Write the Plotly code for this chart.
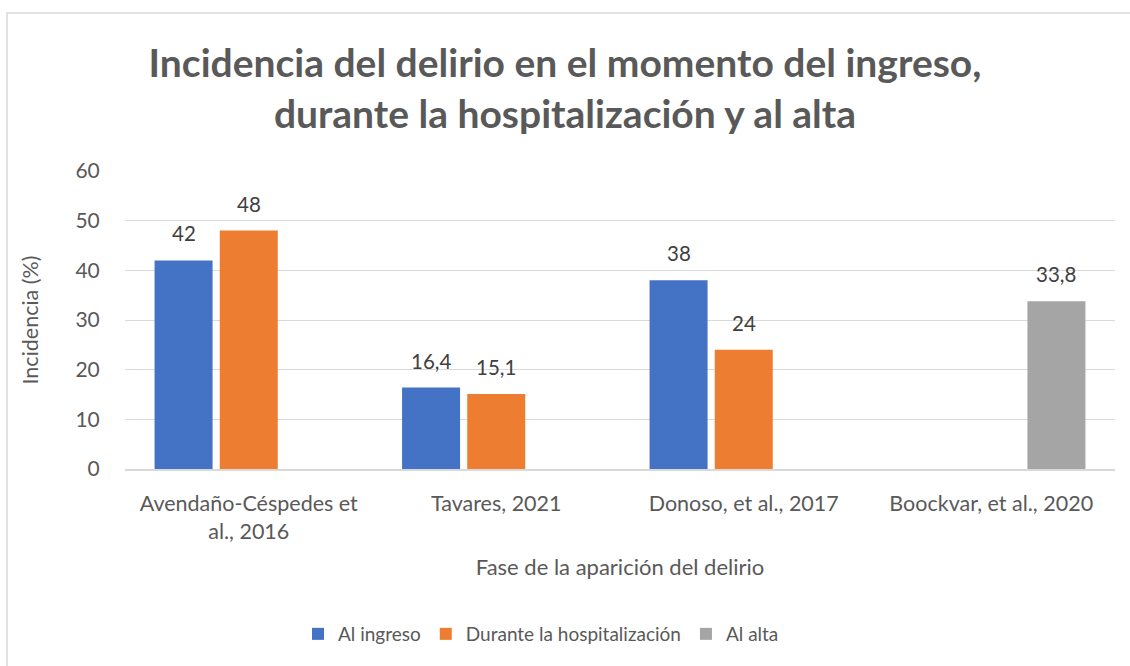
import plotly.graph_objects as go

categories = ["Avendaño-Céspedes et<br>al., 2016", "Tavares, 2021", "Donoso, et al., 2017", "Boockvar, et al., 2020"]
series_names = ["Al ingreso", "Durante la hospitalización", "Al alta"]
al_ingreso = [42, 16.4, 38, None]
durante = [48, 15.1, 24, None]
al_alta = [None, None, None, 33.8]
colors = ["#4472C4", "#ED7D31", "#A5A5A5"]

def fmt(v):
    return ("%g" % v).replace(".", ",")

L, R, T, B = 125, 15, 171, 197
W, H = 1130, 666
pw = W - L - R
ph = H - T - B
BARGAP = 0.21
BARGROUPGAP = 0.11

fig = go.Figure()
all_series = [al_ingreso, durante, al_alta]
for name, vals, col in zip(series_names, all_series, colors):
    fig.add_trace(go.Bar(
        x=categories, y=vals, name=name,
        marker=dict(color=col, line=dict(width=0)),
    ))

# data labels above each bar, shifted to its slot inside the group
n_series = len(all_series)
slot_px = pw / len(categories) * (1 - BARGAP) / n_series
for i, vals in enumerate(all_series):
    shift = (i - (n_series - 1) / 2) * slot_px
    for cat, v in zip(categories, vals):
        if v is None:
            continue
        fig.add_annotation(
            x=cat, y=v, xref="x", yref="y", text=fmt(v), showarrow=False,
            xshift=shift, yshift=27, yanchor="middle",
            font=dict(family="Lato", size=20.5, color="#404040"),
        )

fig.update_layout(
    width=W, height=H,
    margin=dict(l=L, r=R, t=T, b=B),
    paper_bgcolor="white", plot_bgcolor="white",
    barmode="group", bargap=BARGAP, bargroupgap=BARGROUPGAP,
    font=dict(family="Lato", color="#595959", size=21),
    title=dict(
        text="<b>Incidencia del delirio en el momento del ingreso,<br>durante la hospitalización y al alta</b>",
        x=0.5, xanchor="center", y=1 - 77 / H, yanchor="middle",
        font=dict(family="Lato", size=39, color="#595959"),
    ),
    xaxis=dict(
        showgrid=False, showline=True, linecolor="#D9D9D9", linewidth=1.5,
        ticks="outside", ticklen=14, tickcolor="rgba(0,0,0,0)",
        tickfont=dict(size=21.5, color="#595959"),
        title=dict(text="Fase de la aparición del delirio", font=dict(size=22, color="#595959"), standoff=17),
    ),
    yaxis=dict(
        range=[0, 60], dtick=10, showgrid=True, gridcolor="#D9D9D9", gridwidth=1,
        zeroline=False, showline=False,
        ticks="outside", ticklen=20, tickcolor="rgba(0,0,0,0)",
        tickfont=dict(size=21, color="#595959"),
        title=dict(text="Incidencia (%)", font=dict(size=21.5, color="#595959"), standoff=30),
    ),
    legend=dict(
        orientation="h", x=(541 - L) / pw, xanchor="center",
        y=(469 - 634) / ph, yanchor="middle",
        font=dict(size=19, color="#595959"),
        traceorder="normal", itemwidth=30,
    ),
    showlegend=True,
)

fig.add_shape(
    type="rect", xref="paper", yref="paper",
    x0=(7 - L) / pw, x1=(1145 - L) / pw,
    y0=(469 - 690) / ph, y1=(469 - 13) / ph,
    line=dict(color="#D9D9D9", width=1.5), fillcolor="rgba(0,0,0,0)", layer="below",
)

fig.write_html(
    "out.html",
    config={"displayModeBar": False},
    post_script="document.body.style.margin='0';document.body.style.overflow='hidden';",
)
